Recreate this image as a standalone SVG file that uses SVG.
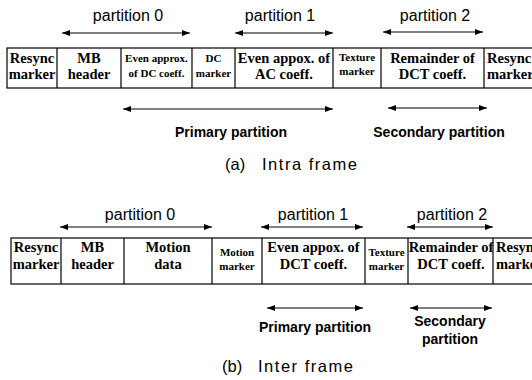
<svg xmlns="http://www.w3.org/2000/svg" width="532" height="380" viewBox="0 0 532 380">
<defs>
<marker id="ah" markerUnits="userSpaceOnUse" markerWidth="10" markerHeight="8" refX="8" refY="4" orient="auto-start-reverse">
<path d="M0,1 L8,4 L0,7 Z" fill="#000"/>
</marker>
<style>
.box{fill:#fff;stroke:#000;stroke-width:1.2}
.div{stroke:#000;stroke-width:1.2}
.arr{stroke:#000;stroke-width:1.1;fill:none;marker-start:url(#ah);marker-end:url(#ah)}
.big{font-family:"Liberation Serif","Times New Roman",serif;font-weight:bold;font-size:14.5px;text-anchor:middle;fill:#000}
.sm{font-family:"Liberation Serif","Times New Roman",serif;font-weight:bold;font-size:11px;text-anchor:middle;fill:#000}
.part{font-family:"Liberation Sans",Arial,sans-serif;font-size:16px;text-anchor:middle;fill:#000}
.pri{font-family:"Liberation Sans",Arial,sans-serif;font-weight:bold;font-size:14px;text-anchor:middle;fill:#000}
.cap{font-family:"Liberation Sans",Arial,sans-serif;font-size:16.5px;fill:#000}
</style>
</defs>
<rect width="532" height="380" fill="#fff"/>

<!-- (a) Intra frame -->
<g id="a-frame">
<rect class="box" x="7" y="48" width="530" height="40"/>
<line class="div" x1="57" y1="48" x2="57" y2="88"/>
<line class="div" x1="121" y1="48" x2="121" y2="88"/>
<line class="div" x1="192" y1="48" x2="192" y2="88"/>
<line class="div" x1="235" y1="48" x2="235" y2="88"/>
<line class="div" x1="333" y1="48" x2="333" y2="88"/>
<line class="div" x1="381" y1="48" x2="381" y2="88"/>
<line class="div" x1="484" y1="48" x2="484" y2="88"/>
</g>
<g id="a-resync1"><text class="big" x="32" y="63">Resync</text><text class="big" x="32" y="79">marker</text></g>
<g id="a-mb"><text class="big" x="89" y="63">MB</text><text class="big" x="89" y="79">header</text></g>
<g id="a-evendc"><text class="sm" x="156.5" y="62">Even approx.</text><text class="sm" x="156.5" y="77">of DC coeff.</text></g>
<g id="a-dcm"><text class="sm" x="213.5" y="62">DC</text><text class="sm" x="213.5" y="77">marker</text></g>
<g id="a-evenac"><text class="big" x="284" y="63">Even appox. of</text><text class="big" x="284" y="79">AC coeff.</text></g>
<g id="a-tex"><text class="sm" x="357" y="61">Texture</text><text class="sm" x="357" y="75">marker</text></g>
<g id="a-rem"><text class="big" x="432.5" y="63">Remainder of</text><text class="big" x="432.5" y="79">DCT coeff.</text></g>
<g id="a-resync2"><text class="big" x="487" y="63" style="text-anchor:start">Resync</text><text class="big" x="487" y="79" style="text-anchor:start">marker</text></g>

<g id="a-labels">
<text class="part" x="128" y="21">partition 0</text>
<text class="part" x="280" y="21">partition 1</text>
<text class="part" x="435" y="21">partition 2</text>
<text class="pri" x="231" y="137">Primary partition</text>
<text class="pri" x="439" y="137">Secondary partition</text>
<text class="cap" x="225" y="170">(a)</text>
<text class="cap" x="262" y="170" textLength="95" lengthAdjust="spacing">Intra frame</text>
</g>

<!-- (b) Inter frame -->
<g id="b-frame">
<rect class="box" x="11" y="238" width="530" height="46"/>
<line class="div" x1="61" y1="238" x2="61" y2="284"/>
<line class="div" x1="124" y1="238" x2="124" y2="284"/>
<line class="div" x1="212" y1="238" x2="212" y2="284"/>
<line class="div" x1="262" y1="238" x2="262" y2="284"/>
<line class="div" x1="365" y1="238" x2="365" y2="284"/>
<line class="div" x1="408" y1="238" x2="408" y2="284"/>
<line class="div" x1="493" y1="238" x2="493" y2="284"/>
</g>
<g id="b-resync1"><text class="big" x="36" y="252">Resync</text><text class="big" x="36" y="269">marker</text></g>
<g id="b-mb"><text class="big" x="92.5" y="252">MB</text><text class="big" x="92.5" y="269">header</text></g>
<g id="b-motion"><text class="big" x="168" y="252">Motion</text><text class="big" x="168" y="269">data</text></g>
<g id="b-mm"><text class="sm" x="237" y="256">Motion</text><text class="sm" x="237" y="270">marker</text></g>
<g id="b-evendct"><text class="big" x="313.5" y="252">Even appox. of</text><text class="big" x="313.5" y="269">DCT coeff.</text></g>
<g id="b-tex"><text class="sm" x="386.5" y="256">Texture</text><text class="sm" x="386.5" y="270">marker</text></g>
<g id="b-rem"><text class="big" x="451" y="252">Remainder of</text><text class="big" x="451" y="269">DCT coeff.</text></g>
<g id="b-resync2"><text class="big" x="496" y="252" style="text-anchor:start">Resync</text><text class="big" x="496" y="269" style="text-anchor:start">marker</text></g>

<g id="b-labels">
<text class="part" x="140" y="220">partition 0</text>
<text class="part" x="313" y="220">partition 1</text>
<text class="part" x="452" y="220">partition 2</text>
<text class="pri" x="315" y="332">Primary partition</text>
<text class="pri" x="450" y="326">Secondary</text>
<text class="pri" x="450" y="344">partition</text>
<text class="cap" x="222" y="372">(b)</text>
<text class="cap" x="258" y="372" textLength="95" lengthAdjust="spacing">Inter frame</text>
</g>

<g id="connectors">
<line class="arr" x1="62" y1="33" x2="190" y2="33"/>
<line class="arr" x1="235" y1="33" x2="333" y2="33"/>
<line class="arr" x1="383" y1="32" x2="483" y2="32"/>
<line class="arr" x1="123" y1="109" x2="333" y2="109"/>
<line class="arr" x1="388" y1="108" x2="487" y2="108"/>
<line class="arr" x1="60" y1="227" x2="212" y2="227"/>
<line class="arr" x1="261" y1="227" x2="363" y2="227"/>
<line class="arr" x1="407" y1="227" x2="493" y2="227"/>
<line class="arr" x1="267" y1="308" x2="363" y2="308"/>
<line class="arr" x1="410" y1="308" x2="492" y2="308"/>
</g>
</svg>
